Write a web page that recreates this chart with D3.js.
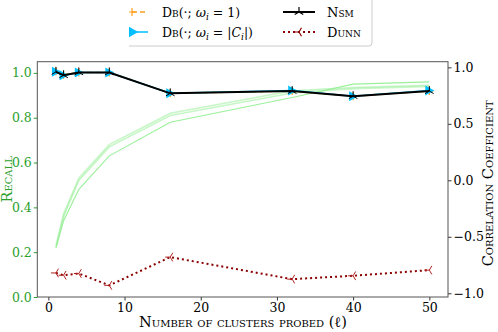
<!DOCTYPE html>
<html>
<head>
<meta charset="utf-8">
<script src="https://cdn.jsdelivr.net/npm/d3@7"></script>
<style>
  body { margin: 0; background: #fff; }
  svg { display: block; font-family: "DejaVu Serif", "Liberation Serif", serif; }
  .sc { font-variant: small-caps; }
</style>
</head>
<body>
<div id="chart"></div>
<script>
// Data
const probes = [1, 2, 4, 8, 16, 32, 40, 50];
const recallA = [0.23, 0.37, 0.53, 0.68, 0.82, 0.92, 0.935, 0.945];
const recallB = [0.22, 0.36, 0.52, 0.67, 0.81, 0.91, 0.93, 0.94];
const recallC = [0.22, 0.34, 0.48, 0.63, 0.78, 0.89, 0.95, 0.96];
const dbUnit = [0.965, 0.935, 0.955, 0.955, 0.77, 0.79, 0.745, 0.79];
const dbSize = [0.96, 0.93, 0.955, 0.955, 0.77, 0.795, 0.745, 0.795];
const nsm = [0.96, 0.93, 0.955, 0.955, 0.77, 0.79, 0.745, 0.79];
const dunn = [-0.82, -0.84, -0.825, -0.93, -0.68, -0.875, -0.845, -0.795];
const xTicks = [0, 10, 20, 30, 40, 50];
const yLeftTicks = [0, 0.2, 0.4, 0.6, 0.8, 1.0];
const yRightTicks = [-1, -0.5, 0, 0.5, 1];

const W = 498, H = 332;
const margin = {top: 61.7, right: 50, bottom: 35, left: 37.3};
const green = "#2ca02c";

const svg = d3.select("#chart").append("svg")
  .attr("width", W).attr("height", H);

const x = d3.scaleLinear().domain([-1.45, 52.45]).range([margin.left, W - margin.right]);
const yL = d3.scaleLinear().domain([0, 1.05]).range([H - margin.bottom, margin.top]);
const yR = d3.scaleLinear().domain([-1.033, 1.05]).range([H - margin.bottom, margin.top]);

const fmtTick = d => d3.format(".1f")(d).replace("-", "\u2212");

// Recall lines (left axis)
const lineL = d3.line().x((d, i) => x(probes[i])).y(d => yL(d));
[[recallA, 0.5, 1.6], [recallB, 0.5, 1.6], [recallC, 0.9, 1.1]].forEach(([s, op, w]) => {
  svg.append("path").attr("d", lineL(s)).attr("fill", "none")
    .attr("stroke", "#90ee90").attr("stroke-opacity", op).attr("stroke-width", w);
});

// Correlation lines (right axis)
const lineR = d3.line().x((d, i) => x(probes[i])).y(d => yR(d));

svg.append("path").attr("d", lineR(dbUnit)).attr("fill", "none")
  .attr("stroke", "#ff9f1c").attr("stroke-width", 1.5).attr("stroke-dasharray", "5,3");
svg.append("g").selectAll("path").data(dbUnit).enter().append("path")
  .attr("d", "M-4,0H4M0,-4V4")
  .attr("transform", (d, i) => `translate(${x(probes[i])},${yR(d)})`)
  .attr("stroke", "#ff9f1c").attr("stroke-width", 1.2);

svg.append("path").attr("d", lineR(dbSize)).attr("fill", "none")
  .attr("stroke", "#00bfff").attr("stroke-width", 1.5);
svg.append("g").selectAll("path").data(dbSize).enter().append("path")
  .attr("d", "M-4,-5L5,0L-4,5Z")
  .attr("transform", (d, i) => `translate(${x(probes[i])},${yR(d)})`)
  .attr("fill", "#00bfff");

svg.append("path").attr("d", lineR(nsm)).attr("fill", "none")
  .attr("stroke", "#000").attr("stroke-width", 2);
svg.append("g").selectAll("path").data(nsm).enter().append("path")
  .attr("d", "M0,0V-5M0,0L-4.3,2.5M0,0L4.3,2.5")
  .attr("transform", (d, i) => `translate(${x(probes[i])},${yR(d)})`)
  .attr("stroke", "#000").attr("stroke-width", 1);

svg.append("path").attr("d", lineR(dunn)).attr("fill", "none")
  .attr("stroke", "#8b0000").attr("stroke-width", 2).attr("stroke-dasharray", "2,3");
svg.append("g").selectAll("path").data(dunn).enter().append("path")
  .attr("d", "M0,0H-5M0,0L2.5,-4.3M0,0L2.5,4.3")
  .attr("transform", (d, i) => `translate(${x(probes[i])},${yR(d)})`)
  .attr("stroke", "#b22222").attr("stroke-width", 1).attr("fill", "none");

// Axes
const xAxis = svg.append("g").attr("transform", `translate(0,${H - margin.bottom})`)
  .call(d3.axisBottom(x).tickValues(xTicks).tickSize(3.5).tickPadding(3).tickFormat(d3.format("d")));
const yAxisL = svg.append("g").attr("transform", `translate(${margin.left},0)`)
  .call(d3.axisLeft(yL).tickValues(yLeftTicks).tickSize(3.5).tickPadding(2).tickFormat(fmtTick));
const yAxisR = svg.append("g").attr("transform", `translate(${W - margin.right},0)`)
  .call(d3.axisRight(yR).tickValues(yRightTicks).tickSize(3.5).tickPadding(2).tickFormat(fmtTick));

[xAxis, yAxisL, yAxisR].forEach(a => {
  a.select(".domain").remove();
  a.selectAll("text").style("font-size", "12.5px").style("font-family", "DejaVu Serif, serif");
  a.selectAll("line").attr("stroke", "#333");
});
yAxisL.selectAll("text").attr("fill", green);
yAxisL.selectAll("line").attr("stroke", green);

// Frame
svg.append("rect")
  .attr("x", margin.left).attr("y", margin.top)
  .attr("width", W - margin.right - margin.left).attr("height", H - margin.bottom - margin.top)
  .attr("fill", "none").attr("stroke", "#555").attr("stroke-width", 1);

// Axis labels
svg.append("text").attr("class", "sc")
  .attr("x", 243).attr("y", 327)
  .attr("text-anchor", "middle").style("font-size", "14.5px")
  .text("Number of clusters probed (\u2113)");

svg.append("text").attr("class", "sc")
  .attr("transform", `translate(12,${(margin.top + H - margin.bottom) / 2}) rotate(-90)`)
  .attr("text-anchor", "middle").attr("fill", green).style("font-size", "14.5px")
  .text("Recall");

svg.append("text").attr("class", "sc")
  .attr("transform", `translate(493,${(margin.top + H - margin.bottom) / 2 + 4}) rotate(-90)`)
  .attr("text-anchor", "middle").style("font-size", "14.5px")
  .text("Correlation Coefficient");

// Legend
svg.append("clipPath").attr("id", "legclip")
  .append("rect").attr("x", 129).attr("y", 0).attr("width", 300).attr("height", 60);
const leg = svg.append("g").attr("clip-path", "url(#legclip)");
leg.append("rect").attr("x", 110).attr("y", -6).attr("width", 262).attr("height", 52)
  .attr("rx", 3).attr("fill", "#fff").attr("stroke", "#ccc").attr("stroke-width", 1);

const legItems = [
  {col: 0, row: 0, color: "#ff9f1c", dash: "5,3", mark: "M-4,0H4M0,-4V4", fill: "none"},
  {col: 0, row: 1, color: "#00bfff", dash: null, mark: "M-4,-5L5,0L-4,5Z", fill: "#00bfff"},
  {col: 1, row: 0, color: "#000", dash: null, mark: "M0,0V-5M0,0L-4.3,2.5M0,0L4.3,2.5", fill: "none"},
  {col: 1, row: 1, color: "#8b0000", dash: "2,3", mark: "M0,0H-5M0,0L2.5,-4.3M0,0L2.5,4.3", fill: "none"}
];
const colX = [116, 283];
legItems.forEach(it => {
  const gx = colX[it.col], gy = 12 + it.row * 20;
  leg.append("line").attr("x1", gx).attr("x2", gx + 32).attr("y1", gy).attr("y2", gy)
    .attr("stroke", it.color).attr("stroke-width", it.col === 1 ? 2 : 1.5)
    .attr("stroke-dasharray", it.dash);
  leg.append("path").attr("d", it.mark).attr("transform", `translate(${gx + 16},${gy})`)
    .attr("stroke", it.color).attr("stroke-width", 1.2).attr("fill", it.fill);
});

function dbLabel(t, y, last) {
  t.attr("x", 162).attr("y", y).style("font-size", "12.5px");
  t.append("tspan").attr("class", "sc").text("Db");
  t.append("tspan").text("(\u00b7; ");
  t.append("tspan").style("font-style", "italic").text("\u03c9");
  t.append("tspan").style("font-style", "italic").style("font-size", "9px").attr("dy", 3).text("i");
  t.append("tspan").attr("dy", -3).text(" = ");
  last(t);
}
dbLabel(leg.append("text"), 16.5, t => t.append("tspan").text("1)"));
dbLabel(leg.append("text"), 36.5, t => {
  t.append("tspan").text("|");
  t.append("tspan").style("font-style", "italic").text("C");
  t.append("tspan").style("font-style", "italic").style("font-size", "9px").attr("dy", 3).text("i");
  t.append("tspan").attr("dy", -3).text("|)");
});
leg.append("text").attr("class", "sc").attr("x", 327).attr("y", 16.5).style("font-size", "13px").text("Nsm");
leg.append("text").attr("class", "sc").attr("x", 327).attr("y", 36.5).style("font-size", "13px").text("Dunn");
</script>
</body>
</html>
